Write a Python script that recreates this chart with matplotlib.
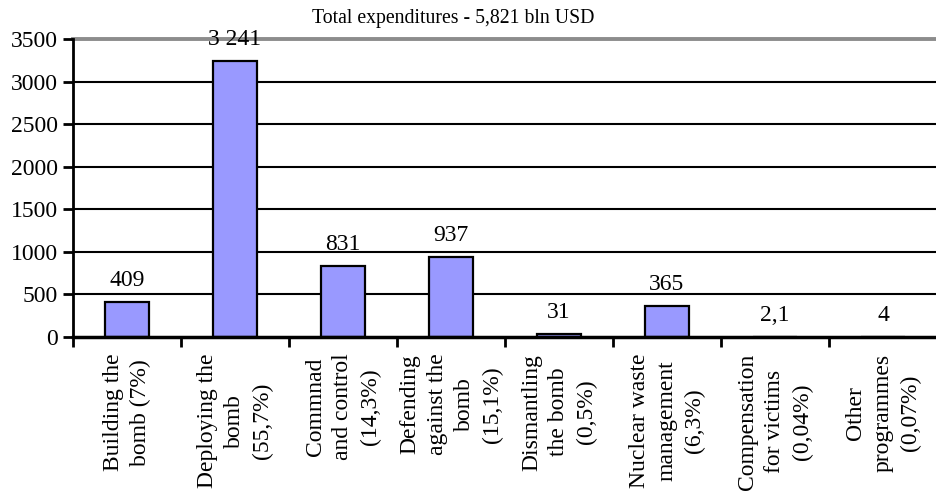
import matplotlib
matplotlib.use("Agg")
import matplotlib.pyplot as plt

categories = [
    "Building the\nbomb (7%)",
    "Deploying the\nbomb\n(55,7%)",
    "Commnad\nand control\n(14,3%)",
    "Defending\nagainst the\nbomb\n(15,1%)",
    "Dismantling\nthe bomb\n(0,5%)",
    "Nuclear waste\nmanagement\n(6,3%)",
    "Compensation\nfor victims\n(0,04%)",
    "Other\nprogrammes\n(0,07%)",
]
values = [409, 3241, 831, 937, 31, 365, 2.1, 4]
value_labels = ["409", "3 241", "831", "937", "31", "365", "2,1", "4"]
yticks = [0, 500, 1000, 1500, 2000, 2500, 3000, 3500]
title = "Total expenditures - 5,821 bln USD"

plt.rcParams['font.family'] = ['Liberation Serif', 'DejaVu Serif']
FS = 17

fig = plt.figure(figsize=(9.37, 4.93), dpi=100)
ax = fig.add_axes([73/937, 1-337/493, 1-73/937, (337-39)/493])

x = list(range(len(values)))
ax.set_xlim(-0.5, len(values) - 0.5)
ax.set_ylim(0, 3500)

for yt in yticks[1:-1]:
    ax.axhline(yt, color='black', lw=1.5, zorder=1)
ax.axhline(3500, color='#8c8c8c', lw=2.8, zorder=1, clip_on=False)

bars = ax.bar(x, values, width=0.4, color='#9999FF', edgecolor='black', lw=1.6, zorder=2)
for xi, v, lab in zip(x, values, value_labels):
    ax.annotate(lab, (xi, v), xytext=(0, 8), textcoords='offset points',
                ha='center', va='bottom', fontsize=FS, zorder=4, clip_on=False)

for s in ['top', 'right']:
    ax.spines[s].set_visible(False)
ax.spines['left'].set_linewidth(2)
ax.spines['bottom'].set_linewidth(2.5)
ax.spines['left'].set_zorder(3)
ax.spines['bottom'].set_zorder(3)

ax.set_yticks(yticks)
ax.set_yticklabels([str(t) for t in yticks], fontsize=FS)
ax.tick_params(axis='y', length=7, width=2, pad=4)

ax.set_xticks(x)
ax.set_xticklabels(categories, rotation=90, fontsize=FS, va='top', ha='center',
                   multialignment='center', linespacing=1.4)
ax.tick_params(axis='x', which='major', length=0, pad=12)
ax.set_xticks([i + 0.5 for i in range(-1, len(values))], minor=True)
ax.tick_params(axis='x', which='minor', length=7, width=2)

fig.text(453/937, 1-19/493, title, ha='center', va='center', fontsize=14.2)

fig.savefig("out.png", dpi=100)
